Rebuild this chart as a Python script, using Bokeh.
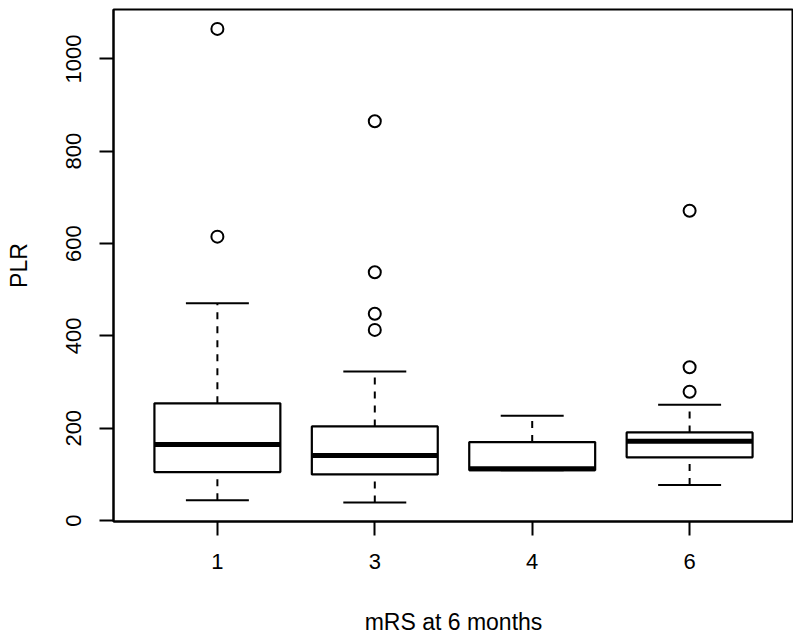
from bokeh.plotting import figure
from bokeh.models import Range1d, FixedTicker, ColumnDataSource
from bokeh.embed import file_html
from bokeh.resources import INLINE

# ---- data ----
groups = ["1", "3", "4", "6"]
lower_whisker = [44, 39, 109, 77]
q1 = [105, 100, 109, 137]
median = [165, 141, 112, 172]
q3 = [254, 204, 170, 191]
upper_whisker = [471, 323, 227, 251]
outlier_group = ["1", "1", "3", "3", "3", "3", "6", "6", "6"]
outlier_value = [615, 1065, 413, 448, 538, 865, 279, 332, 671]
y_ticks = [0, 200, 400, 600, 800, 1000]

FONT = "Liberation Sans"
pos = [i + 1 for i in range(len(groups))]
idx = {g: i + 1 for i, g in enumerate(groups)}
box_w = 0.8
cap_w = 0.4

src = ColumnDataSource(dict(
    x=pos,
    xl=[x - box_w / 2 for x in pos],
    xr=[x + box_w / 2 for x in pos],
    cl=[x - cap_w / 2 for x in pos],
    cr=[x + cap_w / 2 for x in pos],
    lo=lower_whisker, q1=q1, med=median, q3=q3, hi=upper_whisker,
))
osrc = ColumnDataSource(dict(x=[idx[g] for g in outlier_group], y=outlier_value))

p = figure(
    frame_width=680, frame_height=512,
    x_range=Range1d(0.34, 4.66), y_range=Range1d(-2, 1107),
    output_backend="svg", toolbar_location=None,
    min_border_left=113, min_border_right=0, min_border_top=9, min_border_bottom=112,
)
p.xgrid.visible = False
p.ygrid.visible = False
p.background_fill_color = "white"
p.border_fill_color = "white"
p.outline_line_color = "black"
p.outline_line_width = 2

# whiskers (dashed)
p.segment(x0="x", x1="x", y0="q3", y1="hi", source=src, line_color="black",
          line_width=2, line_dash="7 7")
p.segment(x0="x", x1="x", y0="lo", y1="q1", source=src, line_color="black",
          line_width=2, line_dash="7 7")
# staples
p.segment(x0="cl", x1="cr", y0="hi", y1="hi", source=src, line_color="black", line_width=2)
p.segment(x0="cl", x1="cr", y0="lo", y1="lo", source=src, line_color="black", line_width=2)
# boxes
p.quad(left="xl", right="xr", bottom="q1", top="q3", source=src, fill_color="white",
       line_color="black", line_width=2.2)
# medians
p.segment(x0="xl", x1="xr", y0="med", y1="med", source=src, line_color="black",
          line_width=5, line_cap="butt")
# outliers
p.scatter(x="x", y="y", source=osrc, marker="circle", size=12, fill_color=None,
          line_color="black", line_width=2)

# axes
p.xaxis.ticker = FixedTicker(ticks=pos)
p.xaxis.major_label_overrides = {x: g for x, g in zip(pos, groups)}
p.yaxis.ticker = FixedTicker(ticks=y_ticks)
for ax in (p.xaxis[0], p.yaxis[0]):
    ax.axis_line_color = "black"
    ax.axis_line_width = 2
    ax.major_tick_line_color = "black"
    ax.major_tick_line_width = 2
    ax.major_tick_out = 14
    ax.major_tick_in = 0
    ax.minor_tick_line_color = None
    ax.major_label_text_font = FONT
    ax.major_label_text_font_size = "22px"
    ax.major_label_text_color = "black"
    ax.axis_label_text_font = FONT
    ax.axis_label_text_font_size = "23px"
    ax.axis_label_text_font_style = "normal"
    ax.axis_label_text_color = "black"

p.xaxis.axis_label = "mRS at 6 months"
p.yaxis.axis_label = "PLR"
p.xaxis.major_label_standoff = 18
p.xaxis.axis_label_standoff = 37
p.yaxis.major_label_standoff = 18
p.yaxis.axis_label_standoff = 32
p.yaxis.major_label_orientation = "vertical"

open("out.html", "w").write(file_html(p, INLINE))
